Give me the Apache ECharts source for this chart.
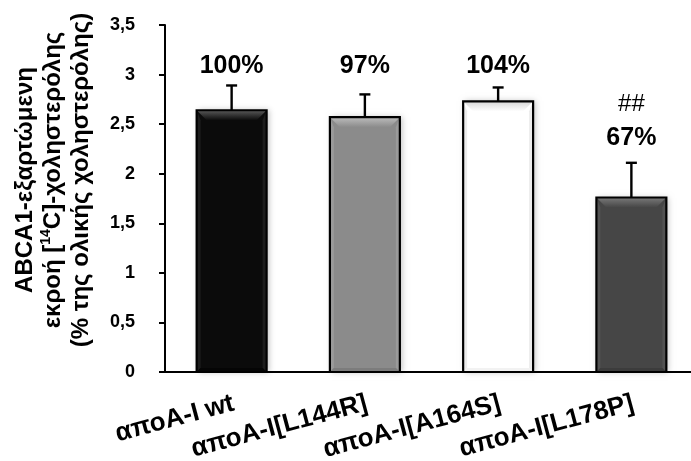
<!DOCTYPE html>
<html>
<head>
<meta charset="utf-8">
<script src="https://cdn.jsdelivr.net/npm/echarts@6/dist/echarts.min.js"></script>
<style>
html, body { margin: 0; padding: 0; background: #ffffff; }
#chart { width: 691px; height: 461px; }
</style>
</head>
<body>
<div id="chart"></div>
<script>
// Cholesterol efflux per apoA-I variant
const categories = ['αποA-I wt', 'αποA-I[L144R]', 'αποA-I[A164S]', 'αποA-I[L178P]'];
const efflux = [2.64, 2.57, 2.73, 1.76];
const errorTop = [2.89, 2.80, 2.87, 2.11];
const percentLabels = ['100%', '97%', '104%', '67%'];
const significance = ['', '', '', '##'];

const FONT = '"Liberation Sans", Arial, sans-serif';
const barFill = ['#0b0b0b', '#8b8b8b', '#ffffff', '#464646'];
const bevelTop = ['#5a5a5a', '#bdbdbd', '#d6d6d6', '#7a7a7a'];
const bevelSide = ['#1c1c1c', '#9a9a9a', '#ececec', '#525252'];
const bevelBottom = ['#050505', '#7c7c7c', '#f2f2f2', '#3c3c3c'];

const chart = echarts.init(document.getElementById('chart'), null, { renderer: 'canvas' });

function renderBar(params, api) {
  const i = api.value(0);
  const top = api.coord([i, api.value(1)]);
  const base = api.coord([i, 0]);
  const bw = api.size([1, 0])[0] * 0.525;
  const x0 = top[0] - bw / 2, x1 = top[0] + bw / 2;
  const yt = top[1], yb = base[1];
  const bt = 10, bs = 4;
  return {
    type: 'group',
    children: [
      {
        type: 'rect',
        shape: { x: x0, y: yt, width: bw, height: yb - yt },
        style: { fill: barFill[i], shadowBlur: 6, shadowColor: 'rgba(0,0,0,0.25)', shadowOffsetX: 2, shadowOffsetY: 0 }
      },
      {
        type: 'polygon',
        shape: { points: [[x0, yt], [x1, yt], [x1 - bt, yt + bt], [x0 + bt, yt + bt]] },
        style: {
          fill: new echarts.graphic.LinearGradient(0, 0, 0, 1, [
            { offset: 0, color: bevelTop[i] },
            { offset: 1, color: barFill[i] }
          ])
        }
      },
      {
        type: 'polygon',
        shape: { points: [[x0, yt], [x0 + bs, yt + bt], [x0 + bs, yb - bs], [x0, yb]] },
        style: { fill: bevelSide[i] }
      },
      {
        type: 'polygon',
        shape: { points: [[x1, yt], [x1 - bs, yt + bt], [x1 - bs, yb - bs], [x1, yb]] },
        style: { fill: bevelSide[i] }
      },
      {
        type: 'polygon',
        shape: { points: [[x0, yb], [x0 + bs, yb - bs], [x1 - bs, yb - bs], [x1, yb]] },
        style: { fill: bevelBottom[i] }
      },
      {
        type: 'rect',
        shape: { x: x0, y: yt, width: bw, height: yb - yt },
        style: { fill: null, stroke: '#000000', lineWidth: 2.2 }
      }
    ]
  };
}

function renderError(params, api) {
  const i = api.value(0);
  const from = api.coord([i, api.value(1)]);
  const to = api.coord([i, api.value(2)]);
  const cap = 5.5;
  return {
    type: 'group',
    children: [
      { type: 'line', shape: { x1: from[0], y1: from[1], x2: to[0], y2: to[1] }, style: { stroke: '#000', lineWidth: 2.4 } },
      { type: 'line', shape: { x1: to[0] - cap, y1: to[1], x2: to[0] + cap, y2: to[1] }, style: { stroke: '#000', lineWidth: 2.4 } }
    ]
  };
}

// Unmarked groups share one label line above the tallest error bar;
// a marked group stacks its mark above its own percentage.
const sharedTop = Math.max(...errorTop.filter((v, k) => !significance[k]));

function renderLabel(params, api) {
  const i = api.value(0);
  const marked = !!significance[i];
  const anchor = api.coord([i, marked ? errorTop[i] : sharedTop]);
  const y = anchor[1] - (marked ? 25 : 19);
  const children = [{
    type: 'text',
    x: anchor[0], y: y,
    style: { text: percentLabels[i], font: 'bold 25px ' + FONT, fill: '#000', align: 'center', verticalAlign: 'middle' }
  }];
  if (marked) {
    children.push({
      type: 'text',
      x: anchor[0], y: y - 33,
      style: { text: significance[i], font: '24px ' + FONT, fill: '#000', align: 'center', verticalAlign: 'middle' }
    });
  }
  return { type: 'group', children: children };
}

// Slanted category names, right-aligned under each category centre
function renderCategory(params, api) {
  const i = api.value(0);
  const p = api.coord([i, 0]);
  return {
    type: 'text',
    x: p[0] + 2, y: p[1] + 31,
    rotation: 15 * Math.PI / 180,
    style: { text: categories[i], font: 'bold 26px ' + FONT, fill: '#000', align: 'right', verticalAlign: 'middle' }
  };
}

const idx = categories.map((c, k) => k);

chart.setOption({
  animation: false,
  backgroundColor: '#ffffff',
  grid: { left: 165, right: -7, top: 25, bottom: 89, containLabel: false, outerBoundsMode: 'none' },
  xAxis: {
    type: 'category',
    data: categories,
    axisLine: { show: true, lineStyle: { color: '#000', width: 2.2 } },
    axisTick: { show: false },
    axisLabel: { show: false },
    splitLine: { show: false }
  },
  yAxis: {
    type: 'value',
    min: 0, max: 3.5, interval: 0.5,
    axisLine: { show: true, lineStyle: { color: '#000', width: 2 } },
    axisTick: { show: true, inside: false, length: 6, lineStyle: { color: '#000', width: 2 } },
    axisLabel: {
      margin: 30, color: '#000', fontFamily: FONT, fontWeight: 'bold', fontSize: 18,
      formatter: v => String(v).replace('.', ',')
    },
    splitLine: { show: false }
  },
  graphic: [{
    type: 'text',
    x: 53, y: 180,
    rotation: Math.PI / 2,
    style: {
      text: '{a|ABCA1-εξαρτώμενη}\n{a|εκροή [}{s|14}{a|C]-χοληστερόλης}\n{a|(% της ολικής χοληστερόλης)}',
      align: 'center',
      verticalAlign: 'middle',
      rich: {
        a: { fontFamily: FONT, fontWeight: 'bold', fontSize: 24, lineHeight: 28, fill: '#000' },
        s: { fontFamily: FONT, fontWeight: 'bold', fontSize: 14, lineHeight: 28, verticalAlign: 'top', fill: '#000' }
      }
    }
  }],
  series: [
    {
      type: 'custom',
      renderItem: renderBar,
      data: idx.map(k => [k, efflux[k]]),
      encode: { x: 0, y: 1 },
      z: 2
    },
    {
      type: 'custom',
      renderItem: renderError,
      data: idx.map(k => [k, efflux[k], errorTop[k]]),
      encode: { x: 0, y: [1, 2] },
      z: 3
    },
    {
      type: 'custom',
      renderItem: renderLabel,
      data: idx.map(k => [k, errorTop[k]]),
      encode: { x: 0, y: 1 },
      z: 4
    },
    {
      type: 'custom',
      renderItem: renderCategory,
      clip: false,
      data: idx.map(k => [k, 0]),
      encode: { x: 0, y: 1 },
      z: 4
    }
  ]
});
</script>
</body>
</html>
